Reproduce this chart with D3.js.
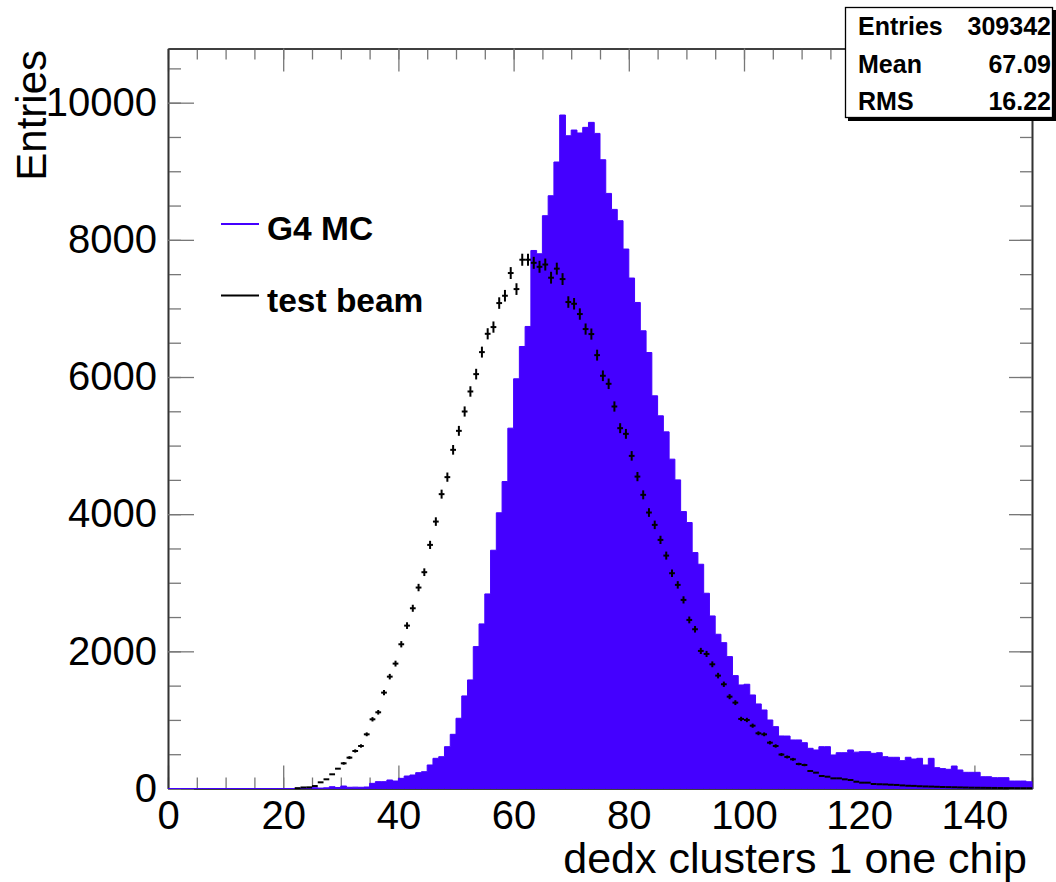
<!DOCTYPE html>
<html>
<head>
<meta charset="utf-8">
<script src="https://cdn.jsdelivr.net/npm/d3@7"></script>
<style>
  body { margin: 0; background: #fff; }
  svg text { font-family: "Liberation Sans", Arial, Helvetica, sans-serif; }
</style>
</head>
<body>
<div id="chart"></div>
<script>
// G4 MC histogram, one entry per bin of width 1 from 0 to 150.
const mcCounts = [
  0, 0, 0, 0, 0, 0, 0, 0, 0, 0,
  0, 0, 0, 0, 0, 0, 0, 0, 0, 0,
  0, 0, 2, 3, 5, 12, 6, 10, 26, 15,
  36, 18, 20, 18, 22, 75, 100, 100, 124, 109,
  148, 182, 197, 231, 245, 343, 440, 464, 610, 790,
  1024, 1350, 1583, 2069, 2400, 2837, 3474, 4020, 4476, 5254,
  5974, 6445, 6737, 7845, 7797, 8352, 8643, 9135, 9820, 9518,
  9601, 9558, 9640, 9713, 9552, 9168, 8677, 8444, 8279, 7866,
  7443, 7087, 6674, 6357, 5726, 5434, 5200, 4802, 4500, 4038,
  3878, 3440, 3270, 2847, 2516, 2249, 2127, 1923, 1646, 1510,
  1520, 1364, 1233, 1145, 999, 902, 766, 765, 708, 708,
  668, 586, 562, 610, 610, 489, 522, 522, 562, 530,
  537, 537, 513, 522, 464, 455, 455, 406, 455, 430,
  440, 343, 440, 304, 290, 280, 328, 270, 236, 236,
  236, 172, 172, 158, 158, 158, 109, 109, 109, 99
];

// Test beam data, same binning.
const beamCounts = [
  0, 0, 0, 0, 0, 0, 0, 0, 0, 0,
  0, 0, 0, 0, 0, 0, 0, 0, 0, 0,
  0, 0, 5, 15, 17, 36, 90, 134, 207, 289,
  367, 450, 547, 620, 790, 1009, 1111, 1398, 1631, 1821,
  2103, 2375, 2628, 2930, 3154, 3552, 3892, 4292, 4540, 4938,
  5215, 5497, 5789, 6042, 6363, 6630, 6728, 7078, 7185, 7516,
  7282, 7710, 7710, 7665, 7607, 7640, 7448, 7580, 7428, 7093,
  7068, 6918, 6699, 6626, 6319, 6018, 5901, 5570, 5254, 5171,
  4850, 4548, 4282, 4024, 3844, 3625, 3396, 3139, 2969, 2750,
  2458, 2322, 2006, 1962, 1811, 1646, 1520, 1339, 1252, 1014,
  999, 916, 805, 790, 668, 620, 495, 460, 426, 357,
  343, 255, 231, 182, 172, 148, 148, 134, 124, 99,
  85, 85, 66, 62, 60, 55, 52, 45, 40, 38,
  33, 30, 28, 25, 22, 20, 18, 16, 14, 12,
  11, 10, 9, 8, 7, 6, 6, 5, 4, 4
];

const xTicks = [0, 20, 40, 60, 80, 100, 120, 140];
const yTicks = [0, 2000, 4000, 6000, 8000, 10000];
const legendLabels = ["G4 MC", "test beam"];
const statNames = ["Entries", "Mean", "RMS"];
const statValues = ["309342", "67.09", "16.22"];

const w = 1056, h = 882;
const padLeft = 168, padRight = 1032, padTop = 48.5, padBottom = 788.5;
const xMax = 150, yMax = 10790;
const mcColor = "#4400ff";

const svg = d3.select("#chart").append("svg")
    .attr("width", w)
    .attr("height", h);

const x = d3.scaleLinear().domain([0, xMax]).range([padLeft, padRight]);
const y = d3.scaleLinear().domain([0, yMax]).range([padBottom, padTop]);

const xMinor = d3.range(0, xMax + 1, 5);
const yMinor = d3.range(0, yMax, 500);

// Axes with ticks pointing into the frame, mirrored on top and right.
function styleAxis(g) {
    g.selectAll(".tick line").attr("stroke", "#777").attr("stroke-width", 1.3);
    g.select(".domain").attr("stroke", "#333").attr("stroke-width", 1.6);
    g.selectAll("text").attr("fill", "#000").attr("font-size", 40)
        .style("font-family", "'Liberation Sans', Arial, sans-serif");
}

svg.append("g").attr("transform", `translate(0,${padBottom})`)
    .call(d3.axisBottom(x).tickValues(xMinor).tickSize(-11).tickSizeOuter(0).tickFormat(""))
    .call(styleAxis);
svg.append("g").attr("transform", `translate(0,${padBottom})`)
    .call(d3.axisBottom(x).tickValues(xTicks).tickSize(-23).tickSizeOuter(0).tickPadding(12).tickFormat(d3.format("d")))
    .call(styleAxis);
svg.append("g").attr("transform", `translate(0,${padTop})`)
    .call(d3.axisTop(x).tickValues(xMinor).tickSize(-11).tickSizeOuter(0).tickFormat(""))
    .call(styleAxis);
svg.append("g").attr("transform", `translate(0,${padTop})`)
    .call(d3.axisTop(x).tickValues(xTicks).tickSize(-23).tickSizeOuter(0).tickFormat(""))
    .call(styleAxis);

svg.append("g").attr("transform", `translate(${padLeft},0)`)
    .call(d3.axisLeft(y).tickValues(yMinor).tickSize(-13).tickSizeOuter(0).tickFormat(""))
    .call(styleAxis);
svg.append("g").attr("transform", `translate(${padLeft},0)`)
    .call(d3.axisLeft(y).tickValues(yTicks).tickSize(-26).tickSizeOuter(0).tickPadding(11).tickFormat(d3.format("d")))
    .call(styleAxis);
svg.append("g").attr("transform", `translate(${padRight},0)`)
    .call(d3.axisRight(y).tickValues(yMinor).tickSize(-12).tickSizeOuter(0).tickFormat(""))
    .call(styleAxis);
svg.append("g").attr("transform", `translate(${padRight},0)`)
    .call(d3.axisRight(y).tickValues(yTicks).tickSize(-23).tickSizeOuter(0).tickFormat(""))
    .call(styleAxis);

// MC histogram as a filled step area.
const mcPoints = mcCounts.map((v, i) => [i, v]);
mcPoints.push([xMax, mcCounts[mcCounts.length - 1]]);

const area = d3.area()
    .curve(d3.curveStepAfter)
    .x(d => x(d[0]))
    .y0(y(0))
    .y1(d => y(d[1]));

svg.append("path")
    .datum(mcPoints)
    .attr("d", area)
    .attr("fill", mcColor)
    .attr("stroke", mcColor)
    .attr("stroke-width", 1);

// Test beam points with error bars.
const beam = beamCounts.map((v, i) => ({ i, v })).filter(d => d.v > 0);
const bars = svg.append("g").attr("stroke", "#000").attr("stroke-width", 2);

bars.selectAll("line.h")
    .data(beam)
    .enter()
    .append("line")
    .attr("class", "h")
    .attr("x1", d => x(d.i))
    .attr("x2", d => x(d.i + 1))
    .attr("y1", d => y(d.v))
    .attr("y2", d => y(d.v));

bars.selectAll("line.v")
    .data(beam.filter(d => d.v > 300))
    .enter()
    .append("line")
    .attr("class", "v")
    .attr("x1", d => x(d.i + 0.5))
    .attr("x2", d => x(d.i + 0.5))
    .attr("y1", d => y(d.v - Math.sqrt(d.v)))
    .attr("y2", d => y(d.v + Math.sqrt(d.v)));

// Axis titles.
svg.append("text")
    .attr("x", 1027)
    .attr("y", 873)
    .attr("text-anchor", "end")
    .attr("font-size", 43)
    .text("dedx clusters 1 one chip");

svg.append("text")
    .attr("transform", "translate(46,50) rotate(-90)")
    .attr("text-anchor", "end")
    .attr("font-size", 42)
    .text("Entries");

// Legend.
const legendColors = [mcColor, "#000"];
const legendY = [224, 295.5];
const legend = svg.append("g");
legendLabels.forEach((label, k) => {
    legend.append("line")
        .attr("x1", 221).attr("x2", 259)
        .attr("y1", legendY[k]).attr("y2", legendY[k])
        .attr("stroke", legendColors[k])
        .attr("stroke-width", 2);
    legend.append("text")
        .attr("x", 267)
        .attr("y", legendY[k] + 16)
        .attr("font-size", 33.5)
        .attr("font-weight", "bold")
        .text(label);
});

// Statistics box with a shadow.
const stats = svg.append("g");
stats.append("rect")
    .attr("x", 848).attr("y", 10)
    .attr("width", 208).attr("height", 111)
    .attr("fill", "#000");
stats.append("rect")
    .attr("x", 845.5).attr("y", 7.5)
    .attr("width", 207).attr("height", 110)
    .attr("fill", "#fff")
    .attr("stroke", "#000")
    .attr("stroke-width", 1.3);
statNames.forEach((name, k) => {
    const by = 35 + k * 37.5;
    stats.append("text")
        .attr("x", 858).attr("y", by)
        .attr("font-size", 25).attr("font-weight", "bold")
        .text(name);
    stats.append("text")
        .attr("x", 1051).attr("y", by)
        .attr("text-anchor", "end")
        .attr("font-size", 25).attr("font-weight", "bold")
        .text(statValues[k]);
});
</script>
</body>
</html>
